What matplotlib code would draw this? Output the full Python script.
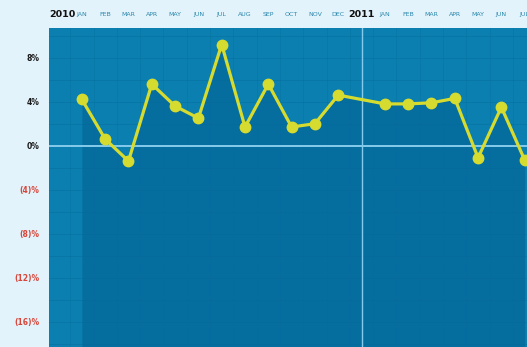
import numpy as np
from matplotlib import pyplot as plt

# monthly change, % (2010 Jan..Dec, 2011 Jan..Jul)
months_2010 = ['JAN', 'FEB', 'MAR', 'APR', 'MAY', 'JUN', 'JUL', 'AUG', 'SEP', 'OCT', 'NOV', 'DEC']
months_2011 = ['JAN', 'FEB', 'MAR', 'APR', 'MAY', 'JUN', 'JUL']
values_2010 = [4.2, 0.6, -1.4, 5.6, 3.6, 2.5, 9.2, 1.7, 5.6, 1.7, 2.0, 4.6]
values_2011 = [3.8, 3.8, 3.9, 4.3, -1.1, 3.5, -1.3]
years = ['2010', '2011']
y_ticks = [8, 4, 0, -4, -8, -12, -16]
y_labels = ['8%', '4%', '0%', '(4)%', '(8)%', '(12)%', '(16)%']

BG = '#e3f3fb'
PLOT_BG = '#0b7fb0'
UNDER = '#05679a'
LINE = '#d6db2f'
LIGHT = '#86cbeb'


def main():
    # 2010 months at 0..11, year slot at 12, 2011 months at 13..
    x10 = np.arange(len(months_2010))
    x11 = np.arange(len(months_2011)) + len(months_2010) + 1
    xs = np.concatenate([x10, x11])
    ys = np.array(values_2010 + values_2011)

    fig = plt.figure(figsize=(5.27, 3.47), dpi=100, facecolor=BG)
    ax = fig.add_axes([49 / 527, 0, 478 / 527, 319 / 347])
    ax.set_facecolor(PLOT_BG)
    xmin, xmax = -1.41, 19.1
    ymin, ymax = -18.3, 10.7
    ax.set_xlim(xmin, xmax)
    ax.set_ylim(ymin, ymax)

    # subtle grid
    for gy in np.arange(-18, 11, 2):
        ax.axhline(gy, color='#066c9c', lw=0.6, alpha=0.5, zorder=1)
    for gx in np.arange(-1.5, 20, 1):
        ax.axvline(gx, color='#066c9c', lw=0.6, alpha=0.35, zorder=1)

    # darker area under the line
    ax.fill_between(xs, ys, ymin, color=UNDER, alpha=0.75, lw=0, zorder=2)

    ax.axhline(0, color=LIGHT, lw=1.4, zorder=3)
    ax.axvline(len(months_2010), color=LIGHT, lw=1.0, zorder=3)

    ax.plot(xs, ys, color=LINE, lw=2.3, marker='o', markersize=7.5,
            markerfacecolor=LINE, markeredgecolor=LINE, zorder=5, clip_on=True)

    for s in ax.spines.values():
        s.set_visible(False)
    ax.set_xticks([])
    ax.set_yticks(y_ticks)
    ax.set_yticklabels(y_labels, fontsize=5.5, fontweight='bold')
    for lbl, v in zip(ax.get_yticklabels(), y_ticks):
        lbl.set_color('#1a1a1a' if v >= 0 else '#d8463a')
    ax.tick_params(axis='y', length=0, pad=7)

    # month / year labels along the top
    ty = ymax + 1.2
    for x, m in zip(list(x10) + list(x11), months_2010 + months_2011):
        ax.text(x, ty, m, fontsize=4.5, color='#2a86ad', ha='center', va='center',
                clip_on=False)
    for x, yr in zip([-0.85, len(months_2010)], years):
        ax.text(x, ty, yr, fontsize=6.8, color='#111111', ha='center', va='center',
                fontweight='bold', clip_on=False)

    plt.savefig('out.png', dpi=100, facecolor=BG)


if __name__ == '__main__':
    main()
